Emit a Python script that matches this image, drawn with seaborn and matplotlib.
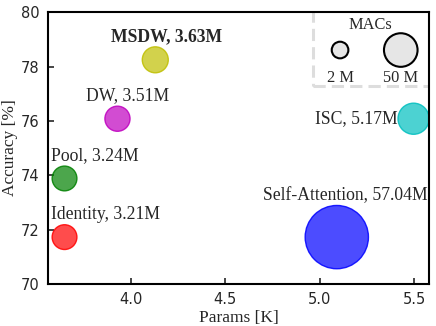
import numpy as np
import pandas as pd
import matplotlib
matplotlib.use("Agg")
import matplotlib.pyplot as plt
import seaborn as sns
from matplotlib.colors import to_rgba
from matplotlib.patches import Rectangle

# ---- data ----
names = ["Identity", "Pool", "DW", "MSDW", "ISC", "Self-Attention"]
params_k = [3.65, 3.65, 3.93, 4.13, 5.496, 5.09]
accuracy = [71.72, 73.88, 76.08, 78.25, 76.08, 71.72]
param_labels = ["3.21M", "3.24M", "3.51M", "3.63M", "5.17M", "57.04M"]
macs_m = [21, 21, 22, 24.5, 41, 212]
colors = ["red", "green", "m", "y", "c", "blue"]
legend_macs = [2, 50]
xticks = [4.0, 4.5, 5.0, 5.5]
yticks = [70, 72, 74, 76, 78, 80]

def mac_size(m):
    return 125 + 9.2 * m

df = pd.DataFrame({"name": names, "params": params_k, "acc": accuracy,
                   "macs": macs_m})

sns.set_style("ticks")
plt.rcParams["font.family"] = ["DejaVu Sans"]
serif = ["Liberation Serif", "DejaVu Serif"]

fig = plt.figure(figsize=(4.36, 3.26), dpi=100)
ax = fig.add_axes([0.1094, 0.1294, 0.8747, 0.8329])

pal = {n: to_rgba(c, 0.7) for n, c in zip(names, colors)}
sns.scatterplot(data=df, x="params", y="acc", hue="name", palette=pal,
                s=[mac_size(m) for m in macs_m], legend=False, ax=ax,
                linewidth=1.0, zorder=3)
coll = ax.collections[0]
coll.set_facecolor([to_rgba(c, 0.7) for c in colors])
coll.set_edgecolor([to_rgba(c, 0.85) for c in colors])
coll.set_clip_on(True)

# annotations: (dx, dy) in points, ha, va
ann = {
    "Identity": ((-9.5, 10), "left", "bottom"),
    "Pool": ((-9.5, 10), "left", "bottom"),
    "DW": ((-23, 10.5), "left", "bottom"),
    "MSDW": ((-32, 10.5), "left", "bottom"),
    "ISC": ((-11.5, 0), "right", "center"),
    "Self-Attention": ((6, 23.5), "center", "bottom"),
}
for n, x, y, lab in zip(names, params_k, accuracy, param_labels):
    (dx, dy), ha, va = ann[n]
    ax.annotate(f"{n}, {lab}", (x, y), xytext=(dx, dy), textcoords="offset points",
                ha=ha, va=va, fontsize=12.7, family=serif,
                fontweight="bold" if n == "MSDW" else "normal", zorder=4)

ax.set_xlim(3.561, 5.578)
ax.set_ylim(70, 80)
ax.set_xticks(xticks)
ax.set_xticklabels([f"{t:.1f}" for t in xticks])
ax.set_yticks(yticks)
ax.tick_params(direction="in", length=4.5, width=1.2, pad=6, labelsize=10.5,
               top=False, right=False)
for sp in ax.spines.values():
    sp.set_linewidth(1.5)
    sp.set_color("black")
    sp.set_zorder(5)
ax.set_xlabel("Params [K]", family=serif, fontsize=12.5, labelpad=2)
ax.set_ylabel("Accuracy [%]", family=serif, fontsize=12.5, labelpad=2)

# ---- custom MACs legend ----
frame = Rectangle((0.6966, 0.7285), 0.32, 0.3, transform=ax.transAxes,
                  fill=False, edgecolor="#dddddd", linewidth=2.2,
                  linestyle=(0, (4, 2)), clip_on=True, zorder=2)
ax.add_patch(frame)
ax.text(0.845, 0.955, "MACs", transform=ax.transAxes, ha="center", va="center",
        fontsize=11.8, family=serif)
lx = [0.7666, 0.9258]
ax.scatter(lx, [0.861, 0.861], s=[mac_size(m) for m in legend_macs],
           transform=ax.transAxes, facecolor="#e6e6e6", edgecolor="black",
           linewidth=1.5, zorder=3)
for x, m in zip(lx, legend_macs):
    ax.text(x, 0.758, f"{m} M", transform=ax.transAxes, ha="center",
            va="center", fontsize=11.8, family=serif)

fig.savefig("out.png", dpi=100)
